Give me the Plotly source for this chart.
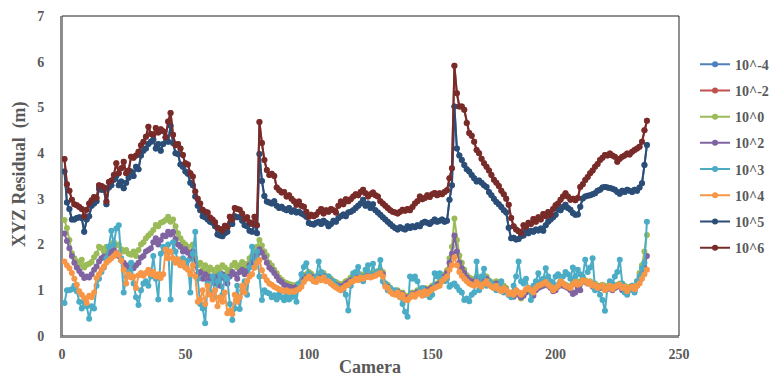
import plotly.graph_objects as go

series_names = ["10^-4", "10^-2", "10^0", "10^2", "10^3", "10^4", "10^5", "10^6"]
series_colors = ["#4F81BD", "#C0504D", "#9BBB59", "#8064A2", "#4BACC6", "#F79646", "#2C4D75", "#772C2A"]

x_ticks = [0, 50, 100, 150, 200, 250]
y_ticks = [0, 1, 2, 3, 4, 5, 6, 7]

s_1e6 = [
    3.87, 3.32, 3.18, 2.98, 2.88, 2.86, 2.82, 2.78, 2.62, 2.76,
    2.90, 2.97, 3.04, 3.02, 3.30, 3.28, 3.25, 2.94, 3.37, 3.40,
    3.52, 3.78, 3.56, 3.67, 3.81, 3.56, 3.62, 3.92, 3.90, 3.95,
    4.03, 4.17, 4.25, 4.36, 4.58, 4.42, 4.40, 4.55, 4.45, 4.52,
    4.48, 4.35, 4.69, 4.88, 4.40, 4.17, 4.20, 4.10, 3.96, 3.78,
    3.75, 3.56, 3.49, 3.16, 3.00, 2.90, 2.76, 2.72, 2.70, 2.59,
    2.55, 2.49, 2.37, 2.34, 2.30, 2.41, 2.38, 2.61, 2.55, 2.80,
    2.78, 2.76, 2.68, 2.56, 2.60, 2.49, 2.45, 2.61, 2.42, 4.68,
    4.22, 3.85, 3.63, 3.52, 3.55, 3.50, 3.25, 3.19, 3.14, 3.15,
    3.05, 3.08, 3.00, 2.95, 2.87, 2.94, 2.85, 2.83, 2.72, 2.61,
    2.65, 2.62, 2.65, 2.72, 2.78, 2.68, 2.75, 2.72, 2.78, 2.75,
    2.70, 2.85, 2.94, 2.88, 2.99, 2.95, 2.99, 3.05, 3.10, 3.08,
    3.15, 3.20, 3.12, 3.05, 3.10, 3.14, 3.08, 3.05, 2.95, 2.90,
    2.85, 2.80, 2.75, 2.72, 2.70, 2.68, 2.72, 2.76, 2.74, 2.78,
    2.75, 2.82, 2.90, 2.95, 3.05, 2.99, 3.02, 3.08, 3.04, 3.10,
    3.13, 3.08, 3.12, 3.10, 3.15, 3.19, 3.45, 3.67, 5.91, 5.31,
    5.02, 5.02, 4.95, 4.66, 4.44, 4.38, 4.25, 4.07, 4.00, 3.88,
    3.78, 3.70, 3.62, 3.52, 3.42, 3.35, 3.28, 3.18, 3.10, 3.00,
    2.87, 2.58, 2.40, 2.33, 2.29, 2.25, 2.42, 2.38, 2.48, 2.45,
    2.56, 2.50, 2.60, 2.55, 2.67, 2.62, 2.71, 2.65, 2.78, 2.86,
    2.90, 2.98, 3.05, 3.12, 3.05, 2.98, 3.00, 2.97, 3.02, 3.26,
    3.32, 3.41, 3.48, 3.56, 3.62, 3.70, 3.76, 3.85, 3.90, 3.96,
    3.95, 3.99, 3.95, 3.92, 3.81, 3.88, 3.92, 3.95, 3.99, 3.97,
    4.03, 4.07, 4.10, 4.14, 4.25, 4.50, 4.71,
]

s_1e5 = [
    3.60, 2.92, 2.78, 2.55, 2.55, 2.58, 2.60, 2.58, 2.28, 2.55,
    2.62, 2.85, 2.90, 2.95, 3.22, 3.20, 3.20, 2.88, 3.25, 3.30,
    3.42, 3.50, 3.30, 3.38, 3.23, 3.35, 3.46, 3.60, 3.50, 3.70,
    3.65, 3.95, 4.05, 4.10, 4.20, 4.25, 4.30, 4.10, 4.20, 4.05,
    4.20, 4.35, 4.25, 4.60, 4.22, 4.00, 3.98, 3.75, 3.70, 3.60,
    3.55, 3.35, 3.30, 3.05, 2.85, 2.75, 2.62, 2.60, 2.55, 2.50,
    2.48, 2.40, 2.22, 2.20, 2.18, 2.25, 2.28, 2.45, 2.45, 2.62,
    2.60, 2.60, 2.52, 2.42, 2.40, 2.30, 2.28, 2.45, 2.25, 3.98,
    3.39, 3.06, 2.94, 2.92, 2.90, 2.95, 2.85, 2.80, 2.83, 2.78,
    2.75, 2.80, 2.72, 2.75, 2.70, 2.72, 2.68, 2.65, 2.61, 2.47,
    2.45, 2.44, 2.48, 2.50, 2.45, 2.52, 2.48, 2.40, 2.45, 2.52,
    2.50, 2.58, 2.62, 2.66, 2.62, 2.70, 2.72, 2.75, 2.80, 2.85,
    2.90, 2.98, 2.85, 2.90, 2.80, 2.88, 2.75, 2.70, 2.65, 2.60,
    2.55, 2.50, 2.45, 2.40, 2.36, 2.33, 2.38, 2.35, 2.33, 2.40,
    2.36, 2.40, 2.38, 2.42, 2.40, 2.47, 2.50, 2.48, 2.45, 2.50,
    2.55, 2.50, 2.52, 2.55, 2.50, 2.52, 2.98, 3.30, 5.02, 4.10,
    3.95, 3.85, 3.74, 3.65, 3.60, 3.52, 3.45, 3.38, 3.40, 3.35,
    3.30, 3.26, 3.15, 3.08, 3.00, 2.93, 2.88, 2.82, 2.75, 2.70,
    2.37, 2.14, 2.15, 2.11, 2.12, 2.18, 2.20, 2.29, 2.25, 2.30,
    2.28, 2.33, 2.31, 2.35, 2.30, 2.42, 2.50, 2.55, 2.60, 2.65,
    2.78, 2.75, 2.82, 2.87, 2.80, 2.76, 2.69, 2.65, 2.66, 2.83,
    3.01, 3.05, 3.07, 3.08, 3.10, 3.12, 3.18, 3.20, 3.25, 3.26,
    3.25, 3.24, 3.22, 3.20, 3.15, 3.11, 3.18, 3.15, 3.20, 3.18,
    3.15, 3.20, 3.18, 3.25, 3.34, 3.74, 4.18,
]

# 10^-4 and 10^-2 lie under the 10^5 / 10^6 curves in the picture
s_1em4 = [
    3.60, 2.92, 2.78, 2.55, 2.55, 2.58, 2.60, 2.58, 2.28, 2.55,
    2.62, 2.85, 2.90, 2.95, 3.22, 3.20, 3.20, 2.88, 3.25, 3.30,
    3.42, 3.50, 3.30, 3.38, 3.23, 3.35, 3.46, 3.60, 3.50, 3.70,
    3.65, 3.95, 4.05, 4.10, 4.20, 4.25, 4.30, 4.10, 4.20, 4.05,
    4.20, 4.35, 4.25, 4.60, 4.22, 4.00, 3.98, 3.75, 3.70, 3.60,
    3.55, 3.35, 3.30, 3.05, 2.85, 2.75, 2.62, 2.60, 2.55, 2.50,
    2.48, 2.40, 2.22, 2.20, 2.18, 2.25, 2.28, 2.45, 2.45, 2.62,
    2.60, 2.60, 2.52, 2.42, 2.40, 2.30, 2.28, 2.45, 2.25, 3.98,
    3.39, 3.06, 2.94, 2.92, 2.90, 2.95, 2.85, 2.80, 2.83, 2.78,
    2.75, 2.80, 2.72, 2.75, 2.70, 2.72, 2.68, 2.65, 2.61, 2.47,
    2.45, 2.44, 2.48, 2.50, 2.45, 2.52, 2.48, 2.40, 2.45, 2.52,
    2.50, 2.58, 2.62, 2.66, 2.62, 2.70, 2.72, 2.75, 2.80, 2.85,
    2.90, 2.98, 2.85, 2.90, 2.80, 2.88, 2.75, 2.70, 2.65, 2.60,
    2.55, 2.50, 2.45, 2.40, 2.36, 2.33, 2.38, 2.35, 2.33, 2.40,
    2.36, 2.40, 2.38, 2.42, 2.40, 2.47, 2.50, 2.48, 2.45, 2.50,
    2.55, 2.50, 2.52, 2.55, 2.50, 2.52, 2.98, 3.30, 5.02, 4.10,
    3.95, 3.85, 3.74, 3.65, 3.60, 3.52, 3.45, 3.38, 3.40, 3.35,
    3.30, 3.26, 3.15, 3.08, 3.00, 2.93, 2.88, 2.82, 2.75, 2.70,
    2.37, 2.14, 2.15, 2.11, 2.12, 2.18, 2.20, 2.29, 2.25, 2.30,
    2.28, 2.33, 2.31, 2.35, 2.30, 2.42, 2.50, 2.55, 2.60, 2.65,
    2.78, 2.75, 2.82, 2.87, 2.80, 2.76, 2.69, 2.65, 2.66, 2.83,
    3.01, 3.05, 3.07, 3.08, 3.10, 3.12, 3.18, 3.20, 3.25, 3.26,
    3.25, 3.24, 3.22, 3.20, 3.15, 3.11, 3.18, 3.15, 3.20, 3.18,
    3.15, 3.20, 3.18, 3.25, 3.34, 3.74, 4.18,
]

s_1em2 = [
    3.87, 3.32, 3.18, 2.98, 2.88, 2.86, 2.82, 2.78, 2.62, 2.76,
    2.90, 2.97, 3.04, 3.02, 3.30, 3.28, 3.25, 2.94, 3.37, 3.40,
    3.52, 3.78, 3.56, 3.67, 3.81, 3.56, 3.62, 3.92, 3.90, 3.95,
    4.03, 4.17, 4.25, 4.36, 4.58, 4.42, 4.40, 4.55, 4.45, 4.52,
    4.48, 4.35, 4.69, 4.88, 4.40, 4.17, 4.20, 4.10, 3.96, 3.78,
    3.75, 3.56, 3.49, 3.16, 3.00, 2.90, 2.76, 2.72, 2.70, 2.59,
    2.55, 2.49, 2.37, 2.34, 2.30, 2.41, 2.38, 2.61, 2.55, 2.80,
    2.78, 2.76, 2.68, 2.56, 2.60, 2.49, 2.45, 2.61, 2.42, 4.68,
    4.22, 3.85, 3.63, 3.52, 3.55, 3.50, 3.25, 3.19, 3.14, 3.15,
    3.05, 3.08, 3.00, 2.95, 2.87, 2.94, 2.85, 2.83, 2.72, 2.61,
    2.65, 2.62, 2.65, 2.72, 2.78, 2.68, 2.75, 2.72, 2.78, 2.75,
    2.70, 2.85, 2.94, 2.88, 2.99, 2.95, 2.99, 3.05, 3.10, 3.08,
    3.15, 3.20, 3.12, 3.05, 3.10, 3.14, 3.08, 3.05, 2.95, 2.90,
    2.85, 2.80, 2.75, 2.72, 2.70, 2.68, 2.72, 2.76, 2.74, 2.78,
    2.75, 2.82, 2.90, 2.95, 3.05, 2.99, 3.02, 3.08, 3.04, 3.10,
    3.13, 3.08, 3.12, 3.10, 3.15, 3.19, 3.45, 3.67, 5.91, 5.31,
    5.02, 5.02, 4.95, 4.66, 4.44, 4.38, 4.25, 4.07, 4.00, 3.88,
    3.78, 3.70, 3.62, 3.52, 3.42, 3.35, 3.28, 3.18, 3.10, 3.00,
    2.87, 2.58, 2.40, 2.33, 2.29, 2.25, 2.42, 2.38, 2.48, 2.45,
    2.56, 2.50, 2.60, 2.55, 2.67, 2.62, 2.71, 2.65, 2.78, 2.86,
    2.90, 2.98, 3.05, 3.12, 3.05, 2.98, 3.00, 2.97, 3.02, 3.26,
    3.32, 3.41, 3.48, 3.56, 3.62, 3.70, 3.76, 3.85, 3.90, 3.96,
    3.95, 3.99, 3.95, 3.92, 3.81, 3.88, 3.92, 3.95, 3.99, 3.97,
    4.03, 4.07, 4.10, 4.14, 4.25, 4.50, 4.71,
]

s_1e0 = [
    2.54, 2.36, 2.10, 1.81, 1.70, 1.63, 1.55, 1.67, 1.50, 1.56,
    1.58, 1.62, 1.72, 1.80, 1.95, 1.92, 1.85, 1.95, 1.90, 2.00,
    2.05, 1.98, 2.00, 1.90, 1.85, 1.88, 1.80, 1.78, 1.85, 1.75,
    1.88, 2.00, 2.05, 2.14, 2.20, 2.25, 2.32, 2.43, 2.40, 2.48,
    2.50, 2.54, 2.61, 2.50, 2.55, 2.40, 2.25, 2.14, 2.05, 2.00,
    1.95, 1.81, 2.00, 1.70, 1.55, 1.60, 1.45, 1.55, 1.40, 1.50,
    1.45, 1.35, 1.50, 1.40, 1.55, 1.50, 1.38, 1.45, 1.55, 1.60,
    1.50, 1.55, 1.62, 1.50, 1.58, 1.70, 1.75, 1.85, 1.95, 2.10,
    1.98, 1.85, 1.76, 1.60, 1.54, 1.45, 1.37, 1.28, 1.23, 1.18,
    1.16, 1.14, 1.12, 1.10, 1.12, 1.13, 1.20, 1.30, 1.35, 1.40,
    1.36, 1.30, 1.28, 1.35, 1.32, 1.38, 1.30, 1.30, 1.25, 1.20,
    1.18, 1.15, 1.12, 1.15, 1.20, 1.22, 1.28, 1.30, 1.32, 1.30,
    1.35, 1.32, 1.35, 1.38, 1.35, 1.38, 1.40, 1.42, 1.45, 1.40,
    1.15, 1.12, 1.05, 1.00, 0.98, 1.00, 0.93, 0.95, 0.88, 0.85,
    0.90, 0.95, 0.93, 1.00, 1.00, 0.95, 1.05, 1.00, 1.05, 1.10,
    1.12, 1.15, 1.20, 1.30, 1.35, 1.44, 1.70, 1.95, 2.57, 2.10,
    1.76, 1.60, 1.45, 1.33, 1.28, 1.25, 1.22, 1.30, 1.25, 1.20,
    1.25, 1.30, 1.22, 1.18, 1.15, 1.20, 1.10, 1.05, 1.10, 1.05,
    0.95, 0.92, 0.90, 1.00, 0.95, 0.82, 0.92, 1.00, 1.05, 1.00,
    0.92, 1.05, 1.10, 1.12, 1.15, 1.20, 1.15, 1.10, 1.02, 1.05,
    1.12, 1.20, 1.15, 1.12, 1.10, 1.05, 1.15, 1.20, 1.15, 1.20,
    1.25, 1.22, 1.18, 1.20, 1.12, 1.15, 1.08, 1.10, 1.12, 1.10,
    1.08, 1.12, 1.05, 1.10, 1.12, 1.15, 1.05, 1.10, 1.00, 1.08,
    1.10, 1.05, 1.20, 1.38, 1.55, 1.85, 2.21,
]

s_1e2 = [
    2.24, 2.08, 1.92, 1.75, 1.60, 1.50, 1.42, 1.35, 1.27, 1.30,
    1.28, 1.35, 1.45, 1.52, 1.63, 1.70, 1.74, 1.72, 1.80, 1.85,
    1.88, 1.82, 1.75, 1.65, 1.60, 1.55, 1.50, 1.58, 1.48, 1.55,
    1.60, 1.71, 1.75, 1.85, 1.88, 1.92, 2.05, 2.14, 2.00, 2.10,
    2.20, 2.18, 2.28, 2.22, 2.28, 2.12, 2.00, 1.95, 1.85, 1.90,
    1.82, 1.70, 1.85, 1.55, 1.35, 1.40, 1.25, 1.35, 1.20, 1.30,
    1.25, 1.15, 1.30, 1.10, 1.35, 1.25, 1.15, 1.30, 1.40, 1.35,
    1.25, 1.40, 1.45, 1.35, 1.42, 1.55, 1.60, 1.70, 1.78, 1.90,
    1.82, 1.72, 1.60, 1.50, 1.45, 1.38, 1.30, 1.22, 1.18, 1.12,
    1.10, 1.08, 1.06, 1.05, 1.08, 1.08, 1.15, 1.25, 1.30, 1.35,
    1.30, 1.25, 1.22, 1.30, 1.28, 1.32, 1.25, 1.25, 1.20, 1.15,
    1.12, 1.10, 1.08, 1.10, 1.15, 1.18, 1.22, 1.25, 1.28, 1.25,
    1.30, 1.28, 1.30, 1.32, 1.30, 1.33, 1.35, 1.38, 1.40, 1.35,
    1.12, 1.08, 1.00, 0.96, 0.95, 0.97, 0.90, 0.92, 0.85, 0.82,
    0.87, 0.92, 0.90, 0.96, 0.97, 0.92, 1.02, 0.97, 1.02, 1.06,
    1.08, 1.12, 1.15, 1.25, 1.30, 1.38, 1.60, 1.80, 2.20, 1.85,
    1.60, 1.48, 1.38, 1.28, 1.22, 1.20, 1.18, 1.25, 1.20, 1.15,
    1.20, 1.25, 1.18, 1.12, 1.10, 1.15, 1.05, 1.00, 1.05, 1.00,
    0.90, 0.88, 0.86, 0.95, 0.90, 0.85, 0.88, 0.95, 1.00, 0.96,
    0.88, 1.00, 1.05, 1.08, 1.10, 1.15, 1.10, 1.05, 0.98, 1.00,
    1.08, 1.15, 1.10, 1.08, 1.05, 1.00, 0.92, 0.95, 1.05, 1.00,
    1.20, 1.18, 1.15, 1.15, 1.08, 1.10, 1.03, 1.05, 1.08, 1.05,
    1.03, 1.08, 1.00, 1.05, 1.08, 1.10, 1.00, 1.05, 0.97, 1.03,
    1.05, 1.00, 1.10, 1.20, 1.35, 1.50, 1.75,
]

s_1e3 = [
    0.72, 1.00, 1.00, 1.02, 1.10, 0.98, 0.75, 0.60, 0.75, 0.65,
    0.38, 0.65, 0.60, 1.10, 1.25, 1.40, 1.50, 1.70, 1.95, 2.30,
    2.00, 2.35, 2.42, 1.70, 0.95, 1.30, 1.40, 1.60, 1.15, 0.85,
    0.68, 1.00, 1.15, 1.20, 1.10, 1.30, 1.75, 1.25, 0.80, 1.80,
    1.95, 1.85, 2.00, 0.80, 2.05, 1.85, 1.62, 1.55, 1.70, 1.50,
    1.65, 0.95, 1.80, 2.28, 1.25, 0.70, 0.60, 0.28, 1.15, 0.95,
    1.30, 0.85, 1.20, 1.35, 0.90, 1.30, 1.25, 0.70, 0.35, 0.60,
    1.10, 0.59, 1.00, 1.20, 0.90, 1.50, 1.95, 1.50, 1.85, 1.30,
    0.79, 1.00, 0.95, 0.93, 0.85, 0.89, 0.80, 0.92, 0.85, 0.78,
    0.88, 0.80, 0.85, 0.90, 0.75, 1.15, 1.35, 1.51, 1.59, 1.35,
    1.26, 1.20, 1.30, 1.63, 1.40, 1.25, 1.30, 1.30, 1.15, 1.20,
    1.10, 1.05, 1.00, 1.00, 0.90, 0.56, 1.10, 1.37, 1.40, 1.51,
    1.30, 1.20, 1.45, 1.55, 1.30, 1.58, 1.35, 1.40, 1.66, 1.20,
    1.15, 1.00, 1.05, 0.95, 1.00, 0.90, 0.85, 0.70, 0.53, 0.42,
    1.30, 1.25, 1.30, 1.20, 1.00, 1.05, 0.90, 0.95, 0.85, 0.90,
    1.37, 1.30, 1.37, 1.25, 1.20, 1.25, 1.08, 1.12, 1.15, 1.08,
    1.00, 0.95, 0.79, 0.82, 0.76, 0.90, 0.95, 1.63, 1.00, 1.30,
    1.47, 1.10, 1.20, 1.15, 1.05, 1.00, 1.10, 1.20, 0.95, 1.00,
    0.90, 0.85, 1.10, 1.30, 1.63, 1.20, 1.15, 1.25, 1.05, 0.79,
    1.10, 1.20, 1.37, 1.20, 1.25, 1.48, 1.30, 1.20, 1.15, 1.30,
    1.35, 1.20, 1.30, 1.40, 1.35, 1.25, 1.50, 1.30, 1.45, 1.35,
    1.30, 1.67, 1.40, 1.50, 1.70, 1.00, 1.10, 0.90, 0.79, 0.55,
    1.05, 1.20, 1.15, 1.30, 1.40, 1.67, 1.15, 0.95, 0.90, 1.00,
    1.10, 0.95, 1.20, 1.30, 1.48, 1.60, 2.50,
]

s_1e4 = [
    1.63, 1.55, 1.48, 1.38, 1.25, 1.12, 0.98, 0.90, 0.83, 0.72,
    0.88, 0.85, 0.95, 1.27, 1.35, 1.45, 1.52, 1.60, 1.65, 1.70,
    1.75, 1.81, 1.78, 1.65, 1.45, 1.15, 1.35, 1.28, 1.30, 1.05,
    1.33, 1.38, 1.32, 1.38, 1.45, 1.35, 1.40, 1.30, 1.35, 1.27,
    1.35, 1.89, 1.70, 1.85, 1.70, 1.60, 1.68, 1.55, 1.60, 1.50,
    1.45, 1.35, 1.55, 1.30, 0.75, 0.80, 1.00, 0.70, 1.10, 0.90,
    0.80, 1.00, 0.65, 0.85, 0.75, 0.95, 0.50, 0.55, 0.48, 0.90,
    0.75, 0.85, 1.10, 0.95, 1.20, 1.30, 1.35, 1.50, 1.60, 1.66,
    1.44, 1.30, 1.22, 1.15, 1.12, 1.08, 1.05, 1.02, 1.00, 0.98,
    1.00, 0.96, 0.98, 0.97, 1.00, 1.02, 1.08, 1.18, 1.25, 1.30,
    1.25, 1.20, 1.18, 1.25, 1.22, 1.28, 1.20, 1.20, 1.15, 1.10,
    1.06, 1.03, 1.00, 1.05, 1.10, 1.12, 1.18, 1.20, 1.25, 1.22,
    1.28, 1.25, 1.28, 1.30, 1.28, 1.30, 1.32, 1.35, 1.38, 1.30,
    1.08, 1.05, 0.97, 0.92, 0.90, 0.95, 0.85, 0.90, 0.80, 0.78,
    0.84, 0.90, 0.86, 0.92, 0.95, 0.88, 0.98, 0.92, 0.98, 1.02,
    1.05, 1.08, 1.10, 1.20, 1.25, 1.30, 1.45, 1.55, 1.72, 1.55,
    1.40, 1.32, 1.25, 1.20, 1.15, 1.12, 1.10, 1.18, 1.12, 1.08,
    1.15, 1.20, 1.12, 1.08, 1.05, 1.10, 1.02, 0.98, 1.05, 1.00,
    0.92, 0.95, 0.90, 1.00, 0.95, 0.90, 0.95, 1.02, 1.05, 1.00,
    0.95, 1.05, 1.10, 1.12, 1.15, 1.18, 1.12, 1.08, 1.00, 1.05,
    1.10, 1.20, 1.15, 1.10, 1.08, 1.05, 1.12, 1.18, 1.12, 1.15,
    1.22, 1.20, 1.15, 1.18, 1.10, 1.12, 1.05, 1.08, 1.10, 1.00,
    1.05, 1.10, 1.02, 1.08, 1.10, 1.12, 1.05, 1.08, 0.98, 1.05,
    1.08, 1.02, 1.10, 1.15, 1.25, 1.35, 1.45,
]

series_values = [s_1em4, s_1em2, s_1e0, s_1e2, s_1e3, s_1e4, s_1e5, s_1e6]

FONT = "Liberation Serif, Times New Roman, serif"
GREY = "#595959"

fig = go.Figure()
for i, (name, color, vals) in enumerate(zip(series_names, series_colors, series_values)):
    cams = list(range(1, len(vals) + 1))
    fig.add_trace(go.Scatter(
        x=cams, y=vals, name=name, mode="lines+markers",
        line=dict(color=color, width=2),
        marker=dict(color=color, size=6, symbol="circle"),
        legendgroup=f"g{i}",
    ))

fig.update_layout(
    width=769, height=376,
    margin=dict(l=62, r=90, t=16, b=40, autoexpand=False),
    plot_bgcolor="white", paper_bgcolor="white",
    showlegend=True,
    legend=dict(
        x=1.026, y=0.898, xanchor="left", yanchor="top",
        traceorder="grouped", tracegroupgap=5,
        font=dict(family=FONT, size=14, color=GREY, weight="bold"),
        bgcolor="rgba(0,0,0,0)", itemwidth=30,
    ),
    xaxis=dict(
        range=[0, 250], tickvals=x_ticks, ticktext=[str(v) for v in x_ticks],
        showgrid=False, zeroline=False, showline=True, linecolor="#8c8c8c", linewidth=2,
        ticks="", ticklabelstandoff=4,
        tickfont=dict(family=FONT, size=14, color=GREY, weight="bold"),
    ),
    yaxis=dict(
        range=[0, 7], tickvals=y_ticks, ticktext=[str(v) for v in y_ticks],
        showgrid=False, zeroline=False, showline=True, linecolor="#8c8c8c", linewidth=2,
        ticks="", ticklabelstandoff=13,
        tickfont=dict(family=FONT, size=14, color=GREY, weight="bold"),
    ),
    shapes=[dict(type="rect", xref="paper", yref="paper", x0=0, y0=0, x1=1, y1=1,
                 line=dict(color="#222222", width=1), layer="below")],
    annotations=[
        dict(text="XYZ Residual  (m)", xref="paper", yref="paper", x=-0.07, y=0.506,
             xanchor="center", yanchor="middle", textangle=-90, showarrow=False,
             font=dict(family=FONT, size=18, color=GREY, weight="bold")),
        dict(text="Camera", xref="paper", yref="paper", x=0.499, y=-0.097,
             xanchor="center", yanchor="middle", showarrow=False,
             font=dict(family=FONT, size=18, color=GREY, weight="bold")),
    ],
)

fig.write_html(
    "out.html",
    config={"displayModeBar": False},
    post_script="document.body.style.margin='0';document.body.style.overflow='hidden';",
)
